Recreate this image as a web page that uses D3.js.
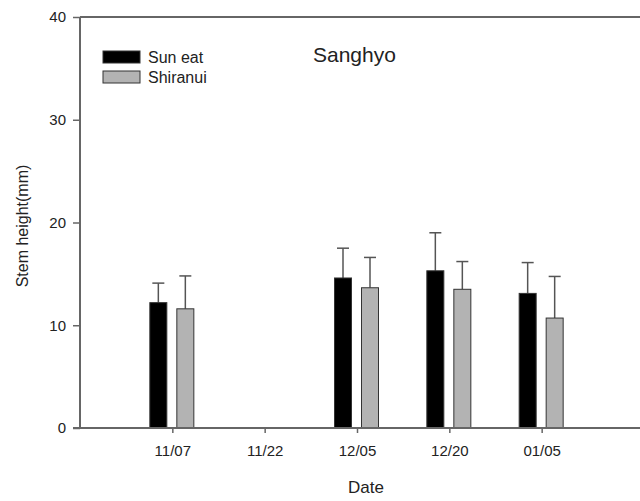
<!DOCTYPE html>
<html>
<head>
<meta charset="utf-8">
<script src="https://cdn.jsdelivr.net/npm/d3@7"></script>
<style>
  body { margin: 0; background: #fff; }
  text { font-family: "Liberation Sans", Arial, sans-serif; fill: #222; }
</style>
</head>
<body>
<script>
// dates on the x axis
let dates = ["11/07", "11/22", "12/05", "12/20", "01/05"];
// means and upper error (sd) per series, null = no data
let sunEat = [12.2, null, 14.6, 15.3, 13.1];
let sunEatErr = [1.9, null, 2.9, 3.7, 3.0];
let shiranui = [11.6, null, 13.65, 13.5, 10.7];
let shiranuiErr = [3.2, null, 2.95, 2.7, 4.05];
let yTicks = [0, 10, 20, 30, 40];

let width = 640;
let height = 501;
let plotLeft = 80, plotRight = 634, plotTop = 17, plotBottom = 428;

let svg = d3.select("body").append("svg")
  .attr("width", width)
  .attr("height", height);

let y = d3.scaleLinear().domain([0, 40]).range([plotBottom, plotTop]);
let x = d3.scalePoint().domain(dates).range([plotLeft, plotRight]).padding(1);

let series = [
  { name: "Sun eat", values: sunEat, err: sunEatErr, fill: "#000", off: -14 },
  { name: "Shiranui", values: shiranui, err: shiranuiErr, fill: "#b3b3b3", off: 13 },
];
let barW = 17;
let axisColor = "#666";

// bars + error bars
series.forEach(s => {
  let pts = dates.map((d, i) => ({ d, v: s.values[i], e: s.err[i] })).filter(p => p.v != null);
  let g = svg.append("g");
  g.selectAll("line.err")
    .data(pts)
    .join("line")
    .attr("class", "err")
    .attr("x1", p => x(p.d) + s.off)
    .attr("x2", p => x(p.d) + s.off)
    .attr("y1", p => y(p.v))
    .attr("y2", p => y(p.v + p.e))
    .attr("stroke", "#555")
    .attr("stroke-width", 1.5);
  g.selectAll("line.cap")
    .data(pts)
    .join("line")
    .attr("class", "cap")
    .attr("x1", p => x(p.d) + s.off - 6)
    .attr("x2", p => x(p.d) + s.off + 6)
    .attr("y1", p => y(p.v + p.e))
    .attr("y2", p => y(p.v + p.e))
    .attr("stroke", "#555")
    .attr("stroke-width", 1.5);
  g.selectAll("rect")
    .data(pts)
    .join("rect")
    .attr("x", p => x(p.d) + s.off - barW / 2)
    .attr("y", p => y(p.v))
    .attr("width", barW)
    .attr("height", p => y(0) - y(p.v))
    .attr("fill", s.fill)
    .attr("stroke", "#333")
    .attr("stroke-width", 1);
});

// axes
let yAxis = svg.append("g")
  .attr("transform", `translate(${plotLeft},0)`)
  .call(d3.axisLeft(y).tickValues(yTicks).tickSize(7).tickPadding(7));
yAxis.select(".domain").remove();
yAxis.selectAll("line").attr("stroke", axisColor).attr("stroke-width", 1.5);
yAxis.selectAll("text").style("font-size", "15px").attr("fill", "#222");

let xAxis = svg.append("g")
  .attr("transform", `translate(0,${plotBottom})`)
  .call(d3.axisBottom(x).tickSize(5).tickPadding(12));
xAxis.select(".domain").remove();
xAxis.selectAll("line").attr("stroke", axisColor).attr("stroke-width", 1.5);
xAxis.selectAll("text").style("font-size", "15px").attr("fill", "#222");

// frame lines: left, top, bottom
svg.append("line").attr("x1", plotLeft).attr("x2", plotLeft).attr("y1", plotTop).attr("y2", plotBottom)
  .attr("stroke", axisColor).attr("stroke-width", 2);
svg.append("line").attr("x1", plotLeft).attr("x2", width).attr("y1", plotTop).attr("y2", plotTop)
  .attr("stroke", axisColor).attr("stroke-width", 2);
svg.append("line").attr("x1", plotLeft - 7).attr("x2", width).attr("y1", plotBottom).attr("y2", plotBottom)
  .attr("stroke", axisColor).attr("stroke-width", 2);

// labels
svg.append("text")
  .attr("transform", `translate(28,226) rotate(-90)`)
  .attr("text-anchor", "middle")
  .style("font-size", "16px")
  .text("Stem height(mm)");

svg.append("text")
  .attr("x", 366).attr("y", 493)
  .attr("text-anchor", "middle")
  .style("font-size", "17px")
  .text("Date");

svg.append("text")
  .attr("x", 313).attr("y", 62)
  .style("font-size", "21px")
  .text("Sanghyo");

// legend
let legend = svg.append("g").attr("transform", "translate(103,51)");
legend.selectAll("rect")
  .data(series)
  .join("rect")
  .attr("x", 0)
  .attr("y", (d, i) => i * 20)
  .attr("width", 37)
  .attr("height", 12)
  .attr("fill", d => d.fill)
  .attr("stroke", "#333");
legend.selectAll("text")
  .data(series)
  .join("text")
  .attr("x", 45)
  .attr("y", (d, i) => i * 20 + 11.5)
  .style("font-size", "16px")
  .text(d => d.name);
</script>
</body>
</html>
